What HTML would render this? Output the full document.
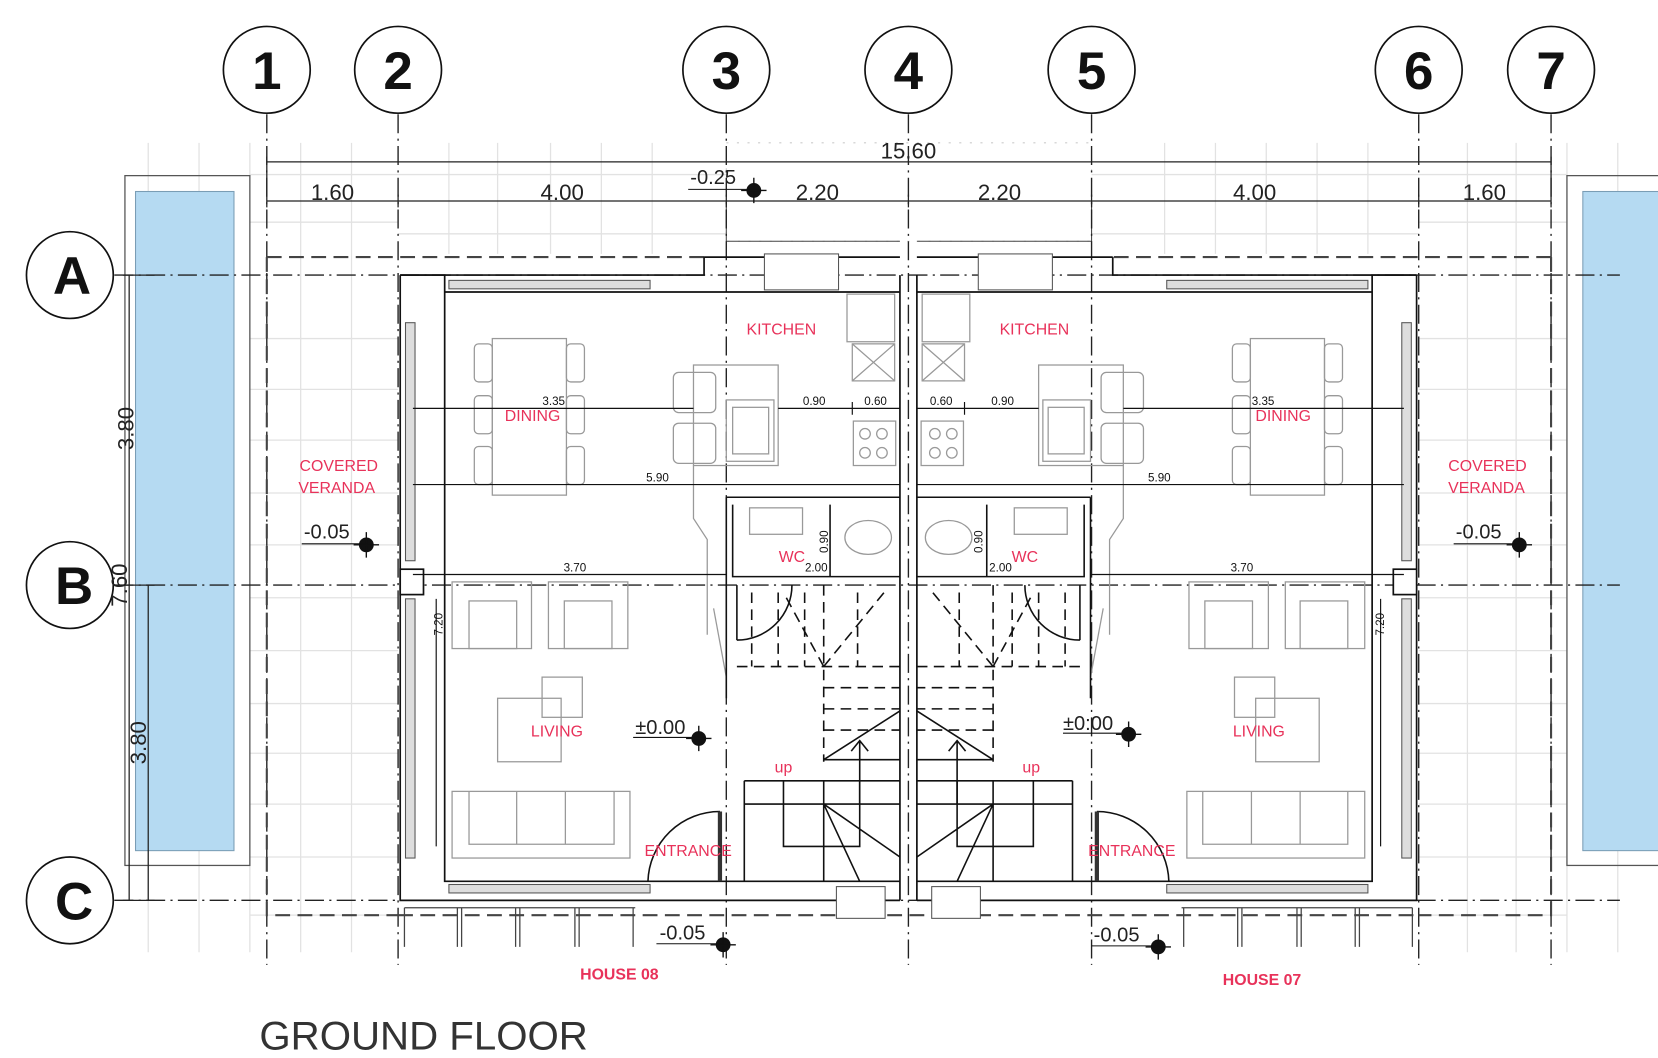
<!DOCTYPE html>
<html><head><meta charset="utf-8"><style>
html,body{margin:0;padding:0;background:#fff;}
svg{display:block;}
.t{font-family:"Liberation Sans",sans-serif;}
.r{fill:#e8325a;font-family:"Liberation Sans",sans-serif;font-size:15px;}
.d{font-family:"Liberation Sans",sans-serif;font-size:11px;fill:#111;}
</style></head><body>
<svg width="1658" height="1058" viewBox="0 0 1566 1000" preserveAspectRatio="none" xmlns="http://www.w3.org/2000/svg">
<rect width="1566" height="1000" fill="#fff"/>
<!-- light background grid -->
<g stroke="#e2e2e2" stroke-width="1.2">
<path d="M140 135V900M188 135V900M236 135V900M284 135V900M332 135V900M1386 135V900M1432 135V900M1480 135V900M1528 135V900"/>
<path d="M236 165H376M236 210H376M236 320H376M236 368H376M236 416H376M236 466H376M236 515H376M236 565H376M236 615H376M236 665H376M236 712H376M236 760H376M236 810H376M236 865H376"/>
<path d="M1340 165H1480M1340 210H1480M1340 320H1480M1340 368H1480M1340 416H1480M1340 466H1480M1340 515H1480M1340 565H1480M1340 615H1480M1340 665H1480M1340 712H1480M1340 760H1480M1340 810H1480M1340 865H1480"/>
<path d="M376 165H686M1031 165H1340M376 221H686M1031 221H1340"/>
<path d="M424 135V240M470 135V240M520 135V240M568 135V240M616 135V240M1100 135V240M1148 135V240M1196 135V240M1244 135V240M1292 135V240"/>
</g>
<!-- dotted terrace zone -->
<rect x="686" y="135" width="345" height="93" fill="none" stroke="#ccc" stroke-dasharray="2 8"/>
<path d="M686 190V228H850M866 228H1031V190" fill="none" stroke="#444" stroke-width="1"/>
<!-- pools -->
<rect x="118" y="166" width="118" height="652" fill="none" stroke="#555" stroke-width="1.2"/>
<rect x="128" y="181" width="93" height="623" fill="#b5daf2" stroke="#7a9db5" stroke-width="1"/>
<rect x="1480" y="166" width="90" height="652" fill="none" stroke="#555" stroke-width="1.2"/>
<rect x="1495" y="181" width="80" height="623" fill="#b5daf2" stroke="#7a9db5" stroke-width="1"/>

<!-- grid axes -->
<g stroke="#222" stroke-width="1.3" stroke-dasharray="18 5 2 5" fill="none">
<path d="M252 108V912M376 108V912M686 108V912M858 108V912M1031 108V912M1340 108V912M1465 108V912"/>
<path d="M108 260H1530M108 553H1530M108 851H1530"/>
</g>
<!-- overhang dashed -->
<g stroke="#444" stroke-width="2" stroke-dasharray="14 7" fill="none">
<path d="M252 243H665M1052 243H1465M252 243V865H376M1465 243V865H1340M376 865H1340"/>
</g>

<!-- circles -->
<g fill="#fff" stroke="#111" stroke-width="1.6">
<circle cx="252" cy="66" r="41"/><circle cx="376" cy="66" r="41"/><circle cx="686" cy="66" r="41"/><circle cx="858" cy="66" r="41"/><circle cx="1031" cy="66" r="41"/><circle cx="1340" cy="66" r="41"/><circle cx="1465" cy="66" r="41"/>
<circle cx="66" cy="260" r="41"/><circle cx="66" cy="553" r="41"/><circle cx="66" cy="851" r="41"/>
</g>
<g class="t" font-size="50" font-weight="bold" text-anchor="middle" fill="#111">
<text x="252" y="84">1</text><text x="376" y="84">2</text><text x="686" y="84">3</text><text x="858" y="84">4</text><text x="1031" y="84">5</text><text x="1340" y="84">6</text><text x="1465" y="84">7</text>
<text x="68" y="278">A</text><text x="70" y="571">B</text><text x="70" y="869">C</text>
</g>

<!-- top dimensions -->
<g stroke="#222" stroke-width="1.2" fill="none">
<path d="M252 153H1465M252 190H1465M252 148V196M376 184V196M686 184V196M858 184V196M1031 184V196M1340 184V196M1465 148V196"/>
<path d="M122 260V851M140 553V851M116 260H146M116 553H146M116 851H146"/>
</g>
<g class="t" font-size="21" fill="#222" text-anchor="middle">
<text x="858" y="150">15.60</text>
<text x="314" y="189">1.60</text><text x="531" y="189">4.00</text><text x="772" y="189">2.20</text><text x="944" y="189">2.20</text><text x="1185" y="189">4.00</text><text x="1402" y="189">1.60</text>
<text transform="translate(126,405) rotate(-90)">3.80</text>
<text transform="translate(120,553) rotate(-90)">7.60</text>
<text transform="translate(138,702) rotate(-90)">3.80</text>
</g>

<defs>
<g id="house">
 <!-- walls -->
 <g stroke="#111" stroke-width="1.6" fill="none">
  <path d="M378 260H420V276M378 260V851H850M420 276V833H850"/>
  <path d="M420 276H850M665 243V260H378"/>
  <path d="M665 243H850"/>
  <rect x="378" y="538" width="22" height="24" fill="#fff"/>
 </g>
 <!-- windows -->
 <g stroke="#555" stroke-width="1" fill="#ddd">
  <rect x="383" y="305" width="9" height="225"/>
  <rect x="383" y="566" width="9" height="245"/>
  <rect x="424" y="265" width="190" height="8"/>
  <rect x="424" y="836" width="190" height="8"/>
  <rect x="722" y="240" width="70" height="34" fill="#fff"/>
  <rect x="790" y="838" width="46" height="30" fill="#fff"/>
 </g>
 <!-- party wall -->
 <path d="M850 260V851" stroke="#111" stroke-width="1.6"/>
 <!-- kitchen furniture -->
 <g stroke="#999" stroke-width="1.2" fill="none">
  <rect x="800" y="278" width="45" height="45"/>
  <rect x="805" y="325" width="40" height="35"/><path d="M805 325L845 360M845 325L805 360"/>
  <rect x="806" y="398" width="40" height="42"/>
  <circle cx="817" cy="410" r="5"/><circle cx="833" cy="410" r="5"/><circle cx="817" cy="428" r="5"/><circle cx="833" cy="428" r="5"/>
  <rect x="655" y="345" width="80" height="95"/>
  <rect x="686" y="378" width="45" height="58"/><rect x="692" y="385" width="34" height="44"/>
  <rect x="636" y="352" width="40" height="38" rx="5"/><rect x="636" y="400" width="40" height="38" rx="5"/>
  <path d="M655 440V490L668 510V600"/>
  <rect x="465" y="320" width="70" height="148"/>
  <rect x="448" y="325" width="17" height="36" rx="4"/><rect x="448" y="374" width="17" height="36" rx="4"/><rect x="448" y="422" width="17" height="36" rx="4"/>
  <rect x="535" y="325" width="17" height="36" rx="4"/><rect x="535" y="374" width="17" height="36" rx="4"/><rect x="535" y="422" width="17" height="36" rx="4"/>
  <!-- living -->
  <rect x="427" y="550" width="75" height="63"/><rect x="443" y="568" width="45" height="45"/>
  <rect x="518" y="550" width="75" height="63"/><rect x="533" y="568" width="45" height="45"/>
  <rect x="470" y="660" width="60" height="60"/><rect x="512" y="640" width="38" height="38"/>
  <rect x="427" y="748" width="168" height="63"/><path d="M443 748V798H580V748M488 748V798M534 748V798"/>
  <!-- WC fixtures -->
  <rect x="708" y="480" width="50" height="25"/>
  <ellipse cx="820" cy="508" rx="22" ry="16"/>
  <path d="M674 575L686 640" />
 </g>
 <!-- WC walls -->
 <g stroke="#111" stroke-width="1.5" fill="none">
  <path d="M686 470H850M686 470V660M692 477V545H850M784 477V545M692 545H850"/>
  <path d="M696 553V605M696 605A52 52 0 0 0 748 553"/>
  <!-- stairs -->
  <path d="M696 630H850" stroke-dasharray="10 6"/>
  <path d="M778 650H850M778 670H850M778 690H850" stroke-dasharray="10 6"/>
  <path d="M778 553V720M710 560V630M735 560V630M760 560V630M810 560V630" stroke-dasharray="10 6"/>
  <path d="M778 630L835 560M778 630L740 560" stroke-dasharray="10 6"/>
  <path d="M778 718L850 672M778 718H850M812 700V760M804 710L812 700L820 710"/>
  <path d="M703 738H850M703 760H850M703 738V833M740 738V800H812V738M778 738V833M778 760L812 833M778 760L850 810"/>
  <!-- entrance door -->
  <path d="M680 767V833M680 767A68 68 0 0 0 612 833" />
 </g>
 <rect x="678" y="767" width="4" height="66" fill="#333"/>
 <!-- front steps -->
 <g stroke="#444" stroke-width="1.2" fill="none">
  <path d="M382 858V895M432 858V895M436 858V895M487 858V895M491 858V895M543 858V895M547 858V895M598 858V895M382 858H600"/>
 </g>
 <!-- interior dimension lines -->
 <g stroke="#111" stroke-width="1.1" fill="none">
  <path d="M390 386H655M735 386H850M390 458H850M390 543H686M805 380V392"/>
  <path d="M412 566V800"/>
 </g>
</g>
<g id="elev">
 <circle r="7" fill="#111"/><path d="M-12 0H12M0 -12V12" stroke="#111" stroke-width="1.3"/>
</g>
</defs>
<use href="#house"/>
<use href="#house" transform="translate(1716,0) scale(-1,1)"/>

<!-- elevation marks -->
<use href="#elev" x="346" y="515"/><path d="M285 514H346" stroke="#111"/>
<use href="#elev" x="712" y="180"/><path d="M650 179H712" stroke="#111"/>
<use href="#elev" x="660" y="698"/><path d="M598 697H660" stroke="#111"/>
<use href="#elev" x="683" y="893"/><path d="M620 892H683" stroke="#111"/>
<use href="#elev" x="1066" y="694"/><path d="M1004 693H1066" stroke="#111"/>
<use href="#elev" x="1094" y="895"/><path d="M1031 894H1094" stroke="#111"/>
<use href="#elev" x="1435" y="515"/><path d="M1373 514H1435" stroke="#111"/>
<g class="t" font-size="19" fill="#222">
<text x="287" y="509">-0.05</text><text x="652" y="174">-0.25</text><text x="600" y="694">±0.00</text>
<text x="623" y="888">-0.05</text><text x="1004" y="690">±0:00</text><text x="1033" y="890">-0.05</text><text x="1375" y="509">-0.05</text>
</g>

<!-- small dims -->
<g class="d" text-anchor="middle">
<text x="523" y="383">3.35</text><text x="769" y="383">0.90</text><text x="827" y="383">0.60</text>
<text x="621" y="455">5.90</text><text x="543" y="540">3.70</text>
<text x="1193" y="383">3.35</text><text x="947" y="383">0.90</text><text x="889" y="383">0.60</text>
<text x="1095" y="455">5.90</text><text x="1173" y="540">3.70</text>
<text x="771" y="540">2.00</text><text x="945" y="540">2.00</text>
<text transform="translate(418,590) rotate(-90)">7.20</text>
<text transform="translate(1307,590) rotate(-90)">7.20</text>
<text transform="translate(782,512) rotate(-90)">0.90</text>
<text transform="translate(928,512) rotate(-90)">0.90</text>
</g>

<!-- room labels -->
<g class="r" text-anchor="middle">
<text x="738" y="316">KITCHEN</text><text x="977" y="316">KITCHEN</text>
<text x="503" y="398">DINING</text><text x="1212" y="398">DINING</text>
<text x="320" y="445">COVERED</text><text x="318" y="466">VERANDA</text>
<text x="1405" y="445">COVERED</text><text x="1404" y="466">VERANDA</text>
<text x="748" y="531">WC</text><text x="968" y="531">WC</text>
<text x="526" y="696">LIVING</text><text x="1189" y="696">LIVING</text>
<text x="740" y="730">up</text><text x="974" y="730">up</text>
<text x="650" y="809">ENTRANCE</text><text x="1069" y="809">ENTRANCE</text>
<text x="585" y="926" font-weight="bold" font-size="15">HOUSE 08</text>
<text x="1192" y="931" font-weight="bold" font-size="15">HOUSE 07</text>
</g>
<text x="245" y="992" class="t" font-size="38" fill="#333">GROUND FLOOR</text>
</svg>
</body></html>
